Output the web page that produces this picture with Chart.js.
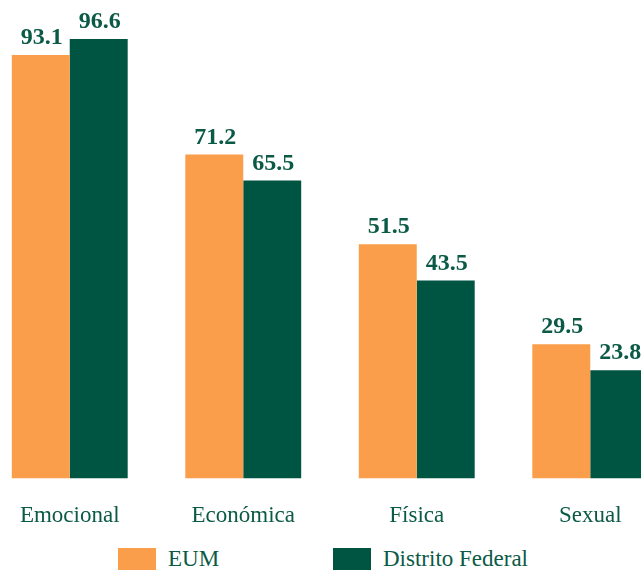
<!DOCTYPE html>
<html>
<head>
<meta charset="utf-8">
<script src="https://cdn.jsdelivr.net/npm/chart.js@4"></script>
<style>
  html, body { margin: 0; padding: 0; background: #fff; }
  body { width: 641px; height: 570px; overflow: hidden; position: relative; }
  #wrap { position: absolute; left: -17px; top: 0; width: 694px; height: 546px; }
  #legend { position: absolute; left: 0; top: 548px; width: 641px; height: 30px;
            font-family: "Liberation Serif", "Times New Roman", serif; font-size: 23px; color: #0b5a45; }
  .item { position: absolute; top: 0; display: flex; align-items: center; height: 22px; }
  .box { width: 38px; height: 22px; margin-right: 12px; }
</style>
</head>
<body>
<div id="wrap"><canvas id="grafico"></canvas></div>
<div id="legend"></div>
<script>
// Datos
const categorias = ['Emocional', 'Económica', 'Física', 'Sexual'];
const valoresEUM = [93.1, 71.2, 51.5, 29.5];
const valoresDF = [96.6, 65.5, 43.5, 23.8];
const series = ['EUM', 'Distrito Federal'];

const colorEUM = '#fb9e4b';
const colorDF = '#005542';
const colorTexto = '#0b5a45';
const fuente = 'Liberation Serif';

// Etiquetas de valor arriba de cada barra
const etiquetasValor = {
  id: 'etiquetasValor',
  afterDatasetsDraw(chart) {
    const ctx = chart.ctx;
    ctx.save();
    ctx.font = 'bold 24px "Liberation Serif"';
    ctx.fillStyle = colorTexto;
    ctx.textAlign = 'center';
    ctx.textBaseline = 'alphabetic';
    chart.data.datasets.forEach((ds, i) => {
      chart.getDatasetMeta(i).data.forEach((bar, j) => {
        ctx.fillText(ds.data[j].toFixed(1), bar.x + 1, bar.y - 11);
      });
    });
    ctx.restore();
  }
};

function crearGrafico() {
  const ctx = document.getElementById('grafico').getContext('2d');
  new Chart(ctx, {
    type: 'bar',
    data: {
      labels: categorias,
      datasets: [
        { label: series[0], data: valoresEUM, backgroundColor: colorEUM },
        { label: series[1], data: valoresDF, backgroundColor: colorDF }
      ]
    },
    options: {
      responsive: true,
      maintainAspectRatio: false,
      animation: false,
      categoryPercentage: 0.668,
      barPercentage: 1,
      layout: { padding: 0 },
      scales: {
        x: {
          grid: { display: false },
          border: { display: false },
          ticks: {
            color: colorTexto,
            padding: 16,
            font: { family: fuente, size: 23 }
          }
        },
        y: {
          display: false,
          min: 0,
          max: 105.2
        }
      },
      plugins: {
        legend: { display: false },
        tooltip: { enabled: false }
      }
    },
    plugins: [etiquetasValor]
  });
}

// Leyenda
const leyenda = document.getElementById('legend');
const posiciones = [118, 333];
series.forEach((nombre, i) => {
  const item = document.createElement('div');
  item.className = 'item';
  item.style.left = posiciones[i] + 'px';
  item.innerHTML = '<div class="box" style="background:' + (i === 0 ? colorEUM : colorDF) + '"></div><span>' + nombre + '</span>';
  leyenda.appendChild(item);
});

Promise.all([
  document.fonts.load('23px "Liberation Serif"'),
  document.fonts.load('bold 24px "Liberation Serif"')
]).then(crearGrafico, crearGrafico);
</script>
</body>
</html>
